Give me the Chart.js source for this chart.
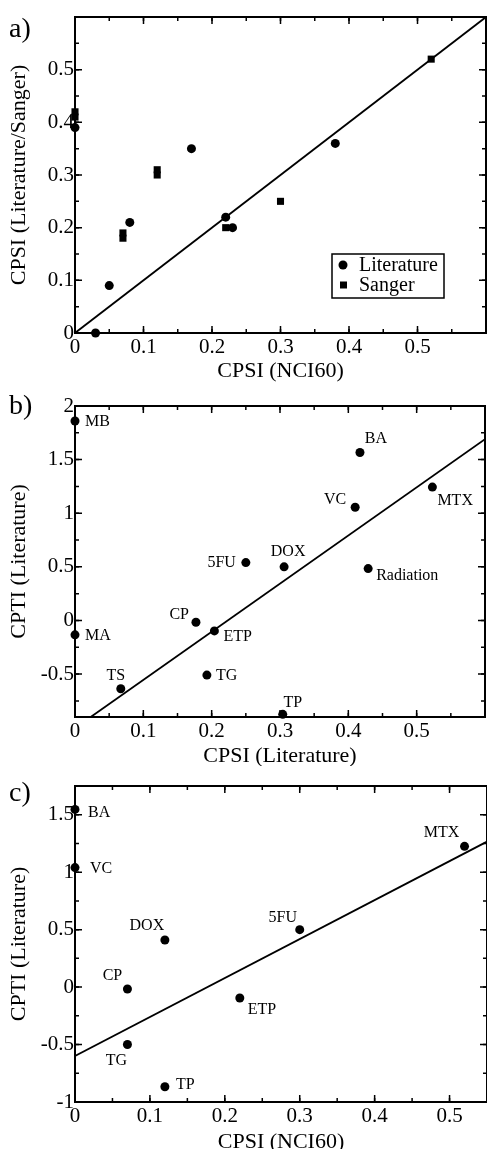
<!DOCTYPE html>
<html>
<head>
<meta charset="utf-8">
<script src="https://cdn.jsdelivr.net/npm/chart.js@4.4.1/dist/chart.umd.min.js"></script>
<style>
    html, body { margin: 0; padding: 0; background: #fff; }
    .wrap { position: relative; width: 487px; height: 1149px; overflow: hidden; }
    canvas { position: absolute; left: 0; }
</style>
</head>
<body>
<div class="wrap">
    <canvas id="chartA" width="487" height="383" style="top:0"></canvas>
    <canvas id="chartB" width="487" height="383" style="top:383px"></canvas>
    <canvas id="chartC" width="487" height="383" style="top:766px"></canvas>
</div>
<script>
// ---- panel a) CPSI NCI60 vs Literature/Sanger
const aLitX = [0, 0.03, 0.05, 0.08, 0.17, 0.22, 0.23, 0.38]
const aLitY = [0.39, 0, 0.09, 0.21, 0.35, 0.22, 0.2, 0.36]
const aSangerX = [0, 0, 0.07, 0.07, 0.12, 0.12, 0.22, 0.3, 0.52]
const aSangerY = [0.42, 0.41, 0.19, 0.18, 0.31, 0.3, 0.2, 0.25, 0.52]
const aFitX = [0, 0.6]
const aFitY = [0, 0.6]
const aXTicks = [0, 0.1, 0.2, 0.3, 0.4, 0.5]
const aYTicks = [0, 0.1, 0.2, 0.3, 0.4, 0.5]

// ---- panel b) CPSI Literature vs CPTI Literature
const bNames = ['MB', 'BA', 'VC', 'MTX', 'DOX', '5FU', 'Radiation', 'CP', 'ETP', 'MA', 'TS', 'TG', 'TP']
const bX = [0, 0.417, 0.41, 0.523, 0.306, 0.25, 0.429, 0.177, 0.204, 0, 0.067, 0.193, 0.304]
const bY = [1.86, 1.566, 1.056, 1.244, 0.5, 0.54, 0.484, -0.016, -0.097, -0.134, -0.637, -0.509, -0.875]
const bFitX = [0.023, 0.6]
const bFitY = [-0.9, 1.69]
const bXTicks = [0, 0.1, 0.2, 0.3, 0.4, 0.5]
const bYTicks = [-0.5, 0, 0.5, 1, 1.5, 2]

// ---- panel c) CPSI NCI60 vs CPTI Literature
const cNames = ['BA', 'VC', 'MTX', '5FU', 'DOX', 'CP', 'ETP', 'TG', 'TP']
const cX = [0, 0, 0.52, 0.3, 0.12, 0.07, 0.22, 0.07, 0.12]
const cY = [1.546, 1.04, 1.225, 0.5, 0.41, -0.017, -0.095, -0.5, -0.867]
const cFitX = [0, 0.55]
const cFitY = [-0.6, 1.266]
const cXTicks = [0, 0.1, 0.2, 0.3, 0.4, 0.5]
const cYTicks = [-1, -0.5, 0, 0.5, 1, 1.5]

// label placement next to each point: [dx, dy, align]
const bLabelPos = {
    MB: [10, 1, 'left'], BA: [16, -14, 'center'], VC: [-9, -7, 'right'],
    MTX: [5, 14, 'left'], DOX: [4, -15, 'center'], '5FU': [-10, 0, 'right'],
    Radiation: [8, 7, 'left'], CP: [-7, -7, 'right'], ETP: [9, 6, 'left'],
    MA: [10, 1, 'left'], TS: [-5, -13, 'center'], TG: [9, 1, 'left'],
    TP: [10, -12, 'center'],
}
const cLabelPos = {
    BA: [13, 3, 'left'], VC: [15, 1, 'left'], MTX: [-23, -14, 'center'],
    '5FU': [-17, -12, 'center'], DOX: [-18, -14, 'center'], CP: [-15, -13, 'center'],
    ETP: [8, 12, 'left'], TG: [-11, 16, 'center'], TP: [11, -2, 'left'],
}

const SERIF = "'Liberation Serif', 'DejaVu Serif', serif"
const toPoints = (xs, ys) => xs.map((x, i) => ({ x: x, y: ys[i] }))

function fitDataset(xs, ys) {
    return {
        type: 'line',
        data: toPoints(xs, ys),
        borderColor: '#000',
        borderWidth: 1.8,
        pointRadius: 0,
        fill: false,
        order: 2,
    }
}

function markerDataset(xs, ys, style, radius) {
    return {
        data: toPoints(xs, ys),
        pointStyle: style,
        pointRadius: radius,
        pointBackgroundColor: '#000',
        pointBorderColor: '#000',
        pointBorderWidth: 0,
        clip: false,
        order: 1,
    }
}

// frame with inward ticks on all four sides
const frameTicks = {
    id: 'frameTicks',
    beforeDatasetsDraw(chart, args, opts) {
        const { ctx, chartArea: a, scales } = chart
        ctx.save()
        ctx.strokeStyle = '#000'
        ctx.lineWidth = 1.5
        const marks = (scale, step, len) => {
            const k0 = Math.ceil(scale.min / step - 1e-6)
            const k1 = Math.floor(scale.max / step + 1e-6)
            for (let k = k0; k <= k1; k++) {
                const v = k * step
                if (Math.abs(v - scale.min) < 1e-6 || Math.abs(v - scale.max) < 1e-6) continue
                const p = scale.getPixelForValue(v)
                ctx.beginPath()
                if (scale.axis === 'x') {
                    ctx.moveTo(p, a.bottom); ctx.lineTo(p, a.bottom - len)
                    ctx.moveTo(p, a.top); ctx.lineTo(p, a.top + len)
                } else {
                    ctx.moveTo(a.left, p); ctx.lineTo(a.left + len, p)
                    ctx.moveTo(a.right, p); ctx.lineTo(a.right - len, p)
                }
                ctx.stroke()
            }
        }
        marks(scales.x, opts.xMinor, 4)
        marks(scales.x, opts.xMajor, 7)
        marks(scales.y, opts.yMinor, 4)
        marks(scales.y, opts.yMajor, 7)
        ctx.lineWidth = 2
        ctx.strokeRect(a.left, a.top, a.right - a.left, a.bottom - a.top)
        ctx.restore()
    },
    afterDatasetsDraw(chart, args, opts) {
        const { ctx, chartArea: a } = chart
        ctx.save()
        ctx.fillStyle = '#000'
        ctx.textBaseline = 'alphabetic'
        ctx.textAlign = 'left'
        ctx.font = '28px ' + SERIF
        ctx.fillText(opts.tag, 9, opts.tagY)

        // point labels
        if (opts.names) {
            const meta = chart.getDatasetMeta(opts.namedIndex)
            ctx.font = '16px ' + SERIF
            ctx.textBaseline = 'middle'
            opts.names.forEach((n, i) => {
                const el = meta.data[i]
                const pos = opts.labelPos[n]
                ctx.textAlign = pos[2]
                ctx.fillText(n, el.x + pos[0], el.y + pos[1])
            })
        }

        // boxed legend
        if (opts.legend) {
            const w = 112, h = 44
            const lx = a.right - 154, ly = a.bottom - 79
            ctx.lineWidth = 1.5
            ctx.strokeStyle = '#000'
            ctx.strokeRect(lx, ly, w, h)
            ctx.font = '20px ' + SERIF
            ctx.textAlign = 'left'
            ctx.textBaseline = 'middle'
            opts.legend.forEach((item, i) => {
                const cy = ly + 11 + i * 20
                ctx.beginPath()
                if (item.style === 'circle') {
                    ctx.arc(lx + 11, cy, 4.5, 0, Math.PI * 2)
                } else {
                    ctx.rect(lx + 8, cy - 3.5, 7, 7)
                }
                ctx.fill()
                ctx.fillText(item.label, lx + 27, cy + 1)
            })
        }
        ctx.restore()
    },
}

function makePanel(id, p) {
    const H = 383
    const tickFont = { family: SERIF, size: 21 }
    const titleFont = { family: SERIF, size: 22 }
    return new Chart(document.getElementById(id), {
        type: 'scatter',
        data: { datasets: p.datasets },
        options: {
            responsive: false,
            animation: false,
            events: [],
            layout: { autoPadding: false, padding: { top: p.top, right: p.right, left: 0, bottom: 0 } },
            plugins: {
                legend: { display: false },
                tooltip: { enabled: false },
                frameTicks: p.frame,
            },
            scales: {
                x: {
                    type: 'linear',
                    min: p.xMin,
                    max: p.xMax,
                    grid: { display: false, drawTicks: false },
                    border: { display: false },
                    ticks: { font: tickFont, color: '#000', padding: 2, maxRotation: 0, callback: v => String(v) },
                    title: { display: true, text: p.xTitle, font: titleFont, color: '#000', padding: { top: 0, bottom: p.xTitlePad } },
                    afterBuildTicks: s => { s.ticks = p.xTicks.map(v => ({ value: v })) },
                    afterFit: s => { s.height = H - p.bottom },
                },
                y: {
                    type: 'linear',
                    min: p.yMin,
                    max: p.yMax,
                    grid: { display: false, drawTicks: false },
                    border: { display: false },
                    ticks: { font: tickFont, color: '#000', padding: 1, callback: v => String(v) },
                    title: { display: true, text: p.yTitle, font: titleFont, color: '#000', padding: { top: 6, bottom: 0 } },
                    afterBuildTicks: s => { s.ticks = p.yTicks.map(v => ({ value: v })) },
                    afterFit: s => { s.width = 75 },
                },
            },
        },
        plugins: [frameTicks],
    })
}

makePanel('chartA', {
    top: 17, bottom: 333, right: 1,
    xMin: 0, xMax: 0.6, yMin: 0, yMax: 0.6,
    xTicks: aXTicks, yTicks: aYTicks,
    xTitle: 'CPSI (NCI60)', yTitle: 'CPSI (Literature/Sanger)', xTitlePad: -1,
    datasets: [
        markerDataset(aLitX, aLitY, 'circle', 4.5),
        markerDataset(aSangerX, aSangerY, 'rect', 5),
        fitDataset(aFitX, aFitY),
    ],
    frame: {
        xMajor: 0.1, xMinor: 0.05, yMajor: 0.1, yMinor: 0.05,
        tag: 'a)', tagY: 37,
        legend: [{ label: 'Literature', style: 'circle' }, { label: 'Sanger', style: 'rect' }],
    },
})

makePanel('chartB', {
    top: 23, bottom: 334, right: 2,
    xMin: 0, xMax: 0.6, yMin: -0.9, yMax: 2,
    xTicks: bXTicks, yTicks: bYTicks,
    xTitle: 'CPSI (Literature)', yTitle: 'CPTI (Literature)', xTitlePad: -3,
    datasets: [
        markerDataset(bX, bY, 'circle', 4.5),
        fitDataset(bFitX, bFitY),
    ],
    frame: {
        xMajor: 0.1, xMinor: 0.05, yMajor: 0.5, yMinor: 0.25,
        tag: 'b)', tagY: 31,
        names: bNames, namedIndex: 0, labelPos: bLabelPos,
    },
})

makePanel('chartC', {
    top: 20, bottom: 336, right: 0,
    xMin: 0, xMax: 0.55, yMin: -1, yMax: 1.75,
    xTicks: cXTicks, yTicks: cYTicks,
    xTitle: 'CPSI (NCI60)', yTitle: 'CPTI (Literature)', xTitlePad: -6,
    datasets: [
        markerDataset(cX, cY, 'circle', 4.5),
        fitDataset(cFitX, cFitY),
    ],
    frame: {
        xMajor: 0.1, xMinor: 0.05, yMajor: 0.5, yMinor: 0.25,
        tag: 'c)', tagY: 35,
        names: cNames, namedIndex: 0, labelPos: cLabelPos,
    },
})
</script>
</body>
</html>
